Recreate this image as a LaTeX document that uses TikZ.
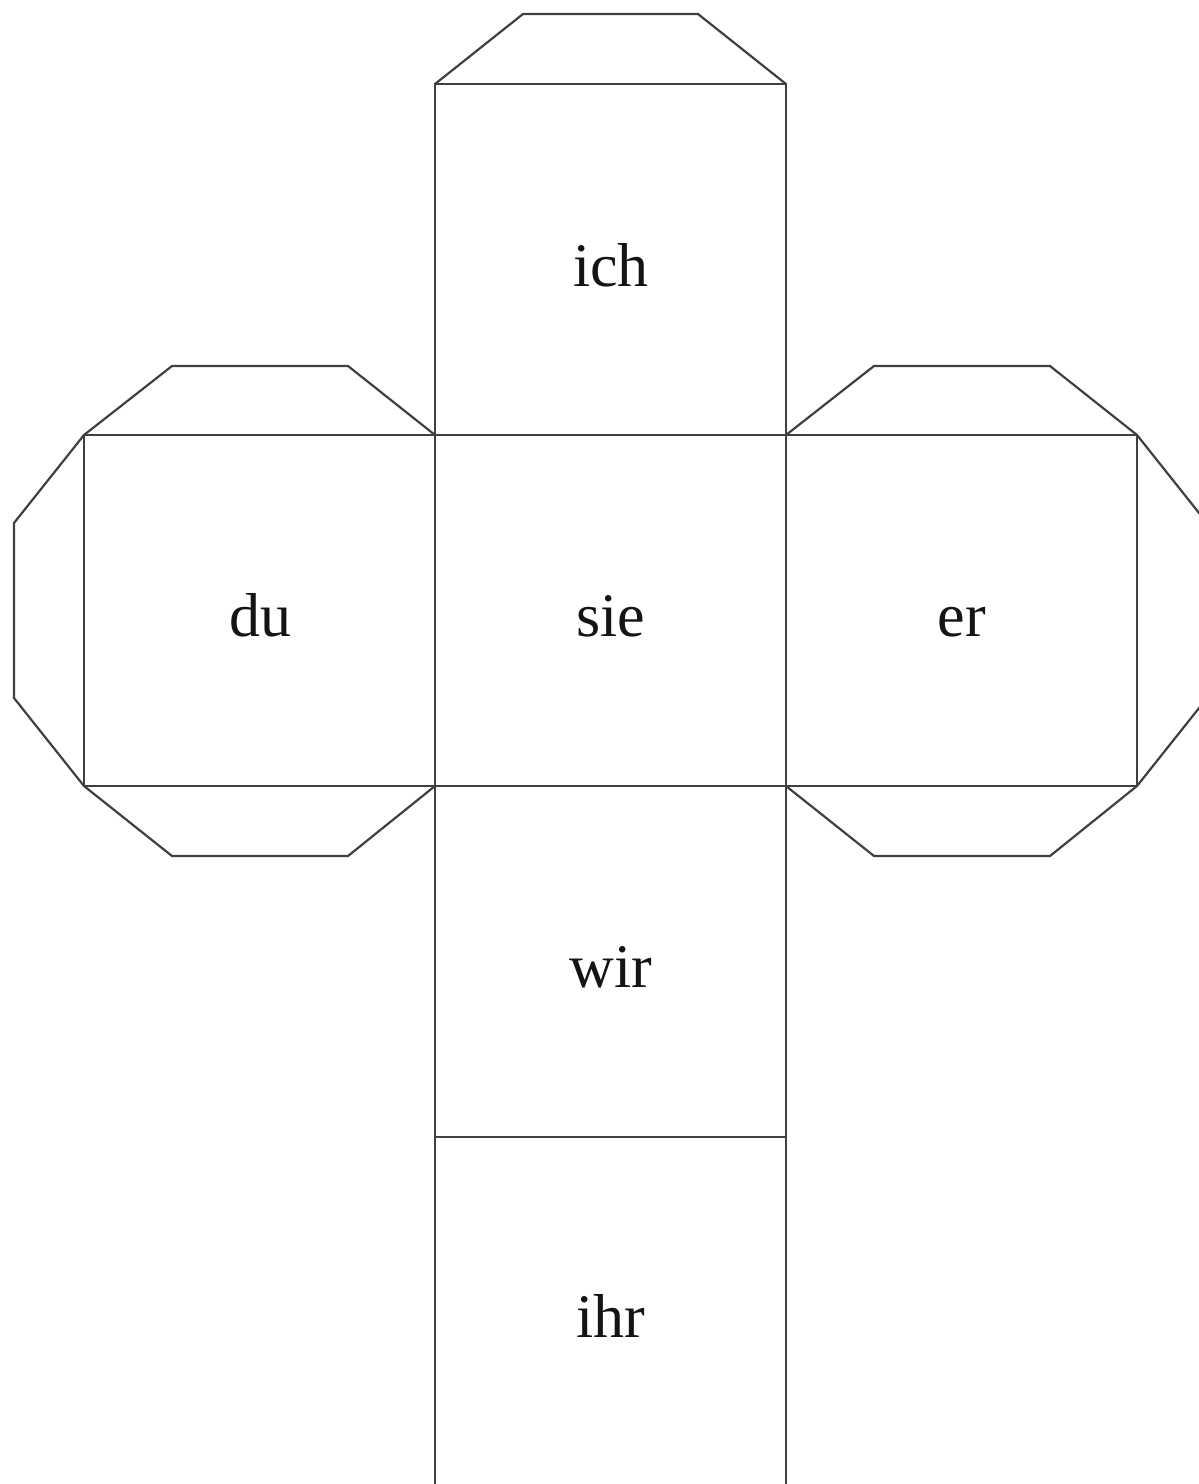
\documentclass[tikz,border=0pt]{standalone}
\usepackage{fontspec}
\setmainfont{Liberation Serif}
\begin{document}
\begin{tikzpicture}[x=0.5pt,y=-0.5pt,
  edge/.style={draw=black!75, line width=1.1pt, line join=miter},
  lbl/.style={anchor=base, inner sep=0pt, font=\fontsize{31}{37}\selectfont, text=black!92}]
\useasboundingbox (0,0) rectangle (1199,1484);
\clip (0,0) rectangle (1199,1484);
% column squares
\draw[edge] (435,84) rectangle (786,435);
\draw[edge] (435,435) rectangle (786,786);
\draw[edge] (435,786) rectangle (786,1137);
\draw[edge] (435,1137) rectangle (786,1500);
\draw[edge] (84,435) rectangle (435,786);
\draw[edge] (786,435) rectangle (1137,786);
% flaps
\draw[edge] (435,84) -- (523,14) -- (698,14) -- (786,84);
\draw[edge] (84,435) -- (172,366) -- (348,366) -- (435,435);
\draw[edge] (84,786) -- (172,856) -- (348,856) -- (435,786);
\draw[edge] (84,435) -- (14,523) -- (14,698) -- (84,786);
\draw[edge] (786,435) -- (874,366) -- (1050,366) -- (1137,435);
\draw[edge] (786,786) -- (874,856) -- (1050,856) -- (1137,786);
\draw[edge] (1137,435) -- (1207,523) -- (1207,698) -- (1137,786);
% labels
\node[lbl] (ich) at (611,286) {ich};
\node[lbl] (sie) at (611,636) {sie};
\node[lbl] (du) at (260,636) {du};
\node[lbl] (er) at (962,636) {er};
\node[lbl] (wir) at (611,987) {wir};
\node[lbl] (ihr) at (611,1337) {ihr};
\end{tikzpicture}
\end{document}
